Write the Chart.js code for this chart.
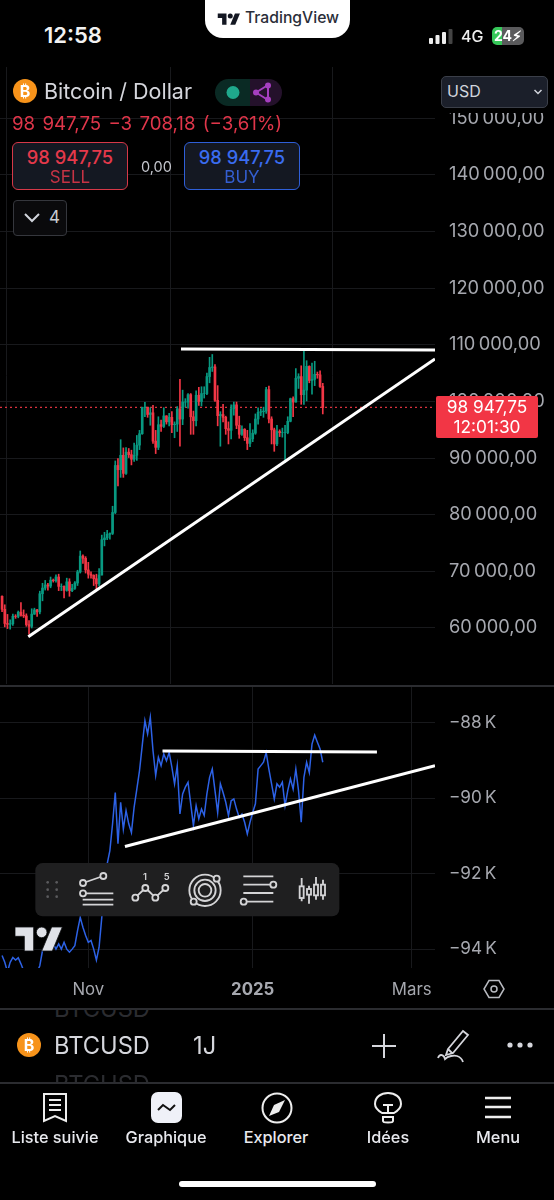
<!DOCTYPE html>
<html><head><meta charset="utf-8">
<script src="https://cdn.jsdelivr.net/npm/chart.js@4/dist/chart.umd.min.js"></script>
<style>
html,body{margin:0;padding:0;background:#000;width:554px;height:1200px;overflow:hidden}
body{position:relative;font-family:Inter,"Noto Sans",sans-serif;color:#d1d4dc}
canvas{position:absolute;left:0}
.a{position:absolute;white-space:nowrap}
.c{transform:translateX(-50%);text-align:center}
.btn{position:absolute;box-sizing:border-box;border-radius:6px;background:#141822;border:1.5px solid;width:116px;height:48px;top:142px;text-align:center}
.btn .p{font-size:18.3px;font-weight:500;line-height:20px;margin-top:4px}
.btn .l{font-size:17px;line-height:19px;opacity:.85;margin-top:1px}
.nav{font-size:16.3px;font-weight:500;color:#e8e9ee;top:1127px}
</style></head><body>
<canvas id="main" width="554" height="617" style="top:67px"></canvas>
<canvas id="sub" width="554" height="320" style="top:686px"></canvas>

<div class="a" style="left:440px;top:67px;width:114px;height:46px;background:#000"></div>
<div class="a" style="left:0;top:685px;width:554px;height:1.5px;background:#2b2c30"></div>

<!-- status bar -->
<div class="a" style="left:205px;top:0;width:145px;height:38px;background:#fff;border-radius:0 0 18px 18px"></div>
<svg class="a" style="left:217px;top:11px" width="24" height="15" viewBox="0 0 36 24"><g fill="#131722"><path d="M14 22H7V11H0V4h14v18z"/><circle cx="20" cy="8" r="4"/><path d="M28 22h-8l7.5-18h8L28 22z"/></g></svg>
<div class="a" style="left:245px;top:8px;font-size:15.7px;font-weight:500;color:#2a2e39;line-height:20px">TradingView</div>
<div class="a" style="left:44px;top:22px;font-size:22px;font-weight:600;color:#f2f2f2;line-height:26px">12:58</div>
<svg class="a" style="left:429px;top:28px" width="26" height="18"><g fill="#eee"><rect x="0" y="10" width="4" height="6" rx="1"/><rect x="6.5" y="7" width="4" height="9" rx="1"/><rect x="13" y="4" width="4" height="12" rx="1"/></g><rect x="19.5" y="1" width="4" height="15" rx="1" fill="#444"/></svg>
<div class="a" style="left:461px;top:26px;font-size:16px;font-weight:500;color:#eee;line-height:20px">4G</div>
<div class="a" style="left:492px;top:27px;width:32px;height:18px;border-radius:5px;background:linear-gradient(90deg,#36c759 0 30%,#5a5a5c 30%);color:#fff;font-size:14px;font-weight:700;line-height:18px;text-align:center">24⚡︎</div>

<!-- header -->
<svg class="a" style="left:13px;top:79px" width="24" height="24"><circle cx="12" cy="12" r="12" fill="#f7931a"/><text x="12" y="18" text-anchor="middle" font-size="16" font-weight="700" fill="#fff" font-family="Inter">₿</text></svg>
<div class="a" style="left:44px;top:78px;font-size:21.5px;color:#d5d6dc;line-height:27px">Bitcoin / Dollar</div>
<div class="a" style="left:215px;top:79px;width:67px;height:27px;border-radius:14px;background:linear-gradient(90deg,#0a2a24 0 52%,#24112b 52%)"></div>
<svg class="a" style="left:225px;top:79px" width="50" height="27"><circle cx="8" cy="13.5" r="6.5" fill="#1fa98c"/><g stroke="#a63fc0" stroke-width="2" fill="#a63fc0"><path d="M31 13.5L43 6M31 13.5L43 21M43 6V21" fill="none"/><circle cx="31" cy="13.5" r="2"/><circle cx="43" cy="6.5" r="2"/><circle cx="43" cy="20.5" r="2"/></g></svg>
<div class="a" style="left:441px;top:76px;width:107px;height:32px;box-sizing:border-box;background:#1b1f2a;border:1.5px solid #3b3f49;border-radius:5px;font-size:16px;line-height:29px;padding-left:5px;color:#d1d4dc">USD<svg style="position:absolute;right:4px;top:11px" width="10" height="8"><path d="M1.5 2L5 5.5L8.5 2" stroke="#d1d4dc" stroke-width="1.5" fill="none"/></svg></div>
<div class="a" style="left:12px;top:113px;font-size:18.7px;color:#e0364a;line-height:21px;word-spacing:2px">98 947,75 −3 708,18 (−3,61%)</div>
<div class="btn" style="left:12px;border-color:#d63848;color:#e5394b"><div class="p">98 947,75</div><div class="l">SELL</div></div>
<div class="a" style="left:141px;top:158px;font-size:14.5px;color:#c3c5cc;line-height:18px">0,00</div>
<div class="btn" style="left:184px;border-color:#2f5fd8;color:#3a6cf0"><div class="p">98 947,75</div><div class="l">BUY</div></div>
<div class="a" style="left:13px;top:200px;width:54px;height:36px;box-sizing:border-box;border:1.5px solid #35373d;border-radius:4px;background:#0a0a0c"><svg style="position:absolute;left:9px;top:11px" width="18" height="12"><path d="M2 2L9 9L16 2" stroke="#d1d4dc" stroke-width="2" fill="none"/></svg><span style="position:absolute;left:35px;top:6px;font-size:17px;line-height:21px;color:#c9cbd1">4</span></div>

<!-- price box -->
<div class="a" style="left:436px;top:396px;width:102px;height:42px;background:#f23645;border-radius:2px;color:#fff;text-align:center;font-size:17.3px;line-height:20px;padding-top:1px;box-sizing:border-box">98 947,75<br>12:01:30</div>

<!-- watermark + toolbar -->
<svg class="a" style="left:15px;top:925px" width="48" height="28" viewBox="0 0 36 21"><g transform="translate(0,-2.5)" fill="#e0e2e8" stroke="#101114" stroke-width=".6"><path d="M14 22H7V11H0V4h14v18z"/><circle cx="20" cy="8" r="4"/><path d="M28 22h-8l7.5-18h8L28 22z"/></g></svg>
<svg class="a" style="left:35px;top:863px" width="305" height="54" viewBox="105 490 915 162">
<rect x="106" y="490" width="912" height="160" rx="22" fill="#1f1f20"/>
<g fill="#5b5b5d"><circle cx="143" cy="548" r="4"/><circle cx="170" cy="548" r="4"/><circle cx="143" cy="570" r="4"/><circle cx="170" cy="570" r="4"/><circle cx="143" cy="591" r="4"/><circle cx="170" cy="591" r="4"/></g>
<g stroke="#d4d4d6" stroke-width="5.5" fill="none">
<path d="M258 547L301 532M258 581H340M248 600H340M248 615H340"/><circle cx="310" cy="529" r="9"/><circle cx="249" cy="550" r="9"/><circle cx="249" cy="581" r="9"/>
<path d="M412 588L430 571M443 571L460 588M472 588L490 571"/><circle cx="406" cy="594" r="9"/><circle cx="436" cy="565" r="9"/><circle cx="466" cy="594" r="9"/><circle cx="496" cy="565" r="9"/>
<circle cx="615" cy="572" r="47"/><circle cx="615" cy="572" r="32"/><circle cx="615" cy="572" r="19"/><circle cx="650" cy="537" r="9" fill="#1f1f20"/><circle cx="581" cy="606" r="9" fill="#1f1f20"/>
<path d="M730 530H820M730 555H811M730 580H820M740 606H820"/><circle cx="820" cy="555" r="9"/><circle cx="731" cy="606" r="9"/>
<path d="M905 535V560M905 595V605M927 558V568M927 585V612M948 532V555M948 587V600M969 540V555M969 587V600"/><rect x="899" y="560" width="12" height="35"/><rect x="921" y="568" width="12" height="17"/><rect x="942" y="555" width="12" height="32"/><rect x="963" y="555" width="12" height="32"/>
</g>
<g fill="#d4d4d6" font-family="Inter" font-size="28" font-weight="600" text-anchor="middle"><text x="435" y="540">1</text><text x="500" y="540">5</text></g>
</svg>

<svg class="a" style="left:483px;top:978px" width="22" height="22"><path d="M6 2.5H16L21 11L16 19.5H6L1 11Z" stroke="#b8bac0" stroke-width="1.5" fill="none"/><circle cx="11" cy="11" r="3" stroke="#b8bac0" stroke-width="1.5" fill="none"/></svg>

<!-- bottom bar -->
<div class="a" style="left:0;top:1008px;width:554px;height:1.5px;background:#2b2c30"></div>
<div class="a" style="left:54px;top:1009.5px;height:9px;overflow:hidden;font-size:23.7px;color:#2b2c30;width:110px"><div style="line-height:20px;margin-top:-11px">BTCUSD</div></div>
<svg class="a" style="left:17px;top:1033px" width="24" height="24"><circle cx="12" cy="12" r="12" fill="#f7931a"/><text x="12" y="18" text-anchor="middle" font-size="16" font-weight="700" fill="#fff" font-family="Inter">₿</text></svg>
<div class="a" style="left:54px;top:1032px;font-size:23.7px;line-height:28px;color:#d5d6dc">BTCUSD</div>
<div class="a" style="left:193px;top:1032px;font-size:23.7px;line-height:28px;color:#d5d6dc">1J</div>
<svg class="a" style="left:370px;top:1032px" width="28" height="28"><path d="M14 2V26M2 14H26" stroke="#d5d6dc" stroke-width="2" fill="none"/></svg>
<svg class="a" style="left:436px;top:1028px" width="34" height="36"><path d="M12 21L27 3L32 7L17 25L10 27ZM16 25L12 21M2 30C4 25 8 27 9 31C12 28 18 27 21 28C24 29 26 31 27 34" stroke="#d5d6dc" stroke-width="1.8" fill="none"/></svg>
<svg class="a" style="left:506px;top:1039px" width="28" height="12"><circle cx="4" cy="6" r="2.6" fill="#d5d6dc"/><circle cx="14" cy="6" r="2.6" fill="#d5d6dc"/><circle cx="24" cy="6" r="2.6" fill="#d5d6dc"/></svg>
<div class="a" style="left:54px;top:1071px;height:11px;overflow:hidden;font-size:23.7px;line-height:28px;color:#2b2c30;width:110px">BTCUSD</div>
<div class="a" style="left:0;top:1082px;width:554px;height:1.5px;background:#2b2c30"></div>

<svg class="a" style="left:42px;top:1092px" width="26" height="32"><path d="M2 2H24V29L13 24L2 29Z" stroke="#eee" stroke-width="2" fill="none"/><path d="M7 8H19M7 13H19M7 18H19" stroke="#eee" stroke-width="2"/></svg>
<svg class="a" style="left:151px;top:1092px" width="31" height="31"><rect width="31" height="31" rx="7" fill="#eff1f8"/><path d="M7 18L12 13L19 18L24 13" stroke="#111" stroke-width="2" fill="none"/></svg>
<svg class="a" style="left:261px;top:1092px" width="32" height="32"><circle cx="16" cy="16" r="14.5" stroke="#eee" stroke-width="2" fill="none"/><path d="M24 8L18 20L8 24L13 13Z" fill="#eee"/></svg>
<svg class="a" style="left:373px;top:1091px" width="30" height="36"><path d="M9 22C4 19 2 15 2 13C2 6 8 2 15 2C22 2 28 6 28 13C28 15 26 19 21 22Z" stroke="#eee" stroke-width="2" fill="none"/><path d="M10 14H20M15 14V22M10 26H20V30C20 32 10 32 10 30Z" stroke="#eee" stroke-width="2" fill="none"/></svg>
<svg class="a" style="left:484px;top:1096px" width="28" height="24"><path d="M1 2H27M1 11H27M1 21H27" stroke="#eee" stroke-width="2.4"/></svg>
<div class="a nav c" style="left:55px">Liste suivie</div>
<div class="a nav c" style="left:166px">Graphique</div>
<div class="a nav c" style="left:276px">Explorer</div>
<div class="a nav c" style="left:388px">Idées</div>
<div class="a nav c" style="left:498px">Menu</div>
<div class="a" style="left:179px;top:1181px;width:197px;height:6px;border-radius:3px;background:#fff"></div>

<script>
// Candle day numbers count from 2025-01-01 = 0; first candle is 2024-09-30
const firstDay = -93;
const opens = [65600,63300,60800,60650,60750,62080,62050,62800,62250,62130,60600,60300,62450,63200,62850,66050,67050,67600,67400,68450,68350,69000,67350,67350,66650,68150,66600,67000,67950,69900,72700,72300,
70250,69500,69300,68700,67800,69350,75600,75900,76550,76700,80400,88700,87950,90500,87300,91050,90600,89800,90500,92300,94300,98950,99000,97700,98000,93000,91900,95900,95600,97450,
96400,97200,95900,96000,98700,96900,99900,99900,101200,97300,96600,101100,100000,101400,101400,104400,106000,106100,100200,97500,97700,97200,95200,94900,98700,99400,95800,94200,95100,93600,92600,
93400,94400,96900,98100,98200,98300,102100,96900,95000,92500,94700,94500,94500,94500,96500,100500,99900,104100,104400,101200,102000,106200,103700,103900,104800,104700,102650];
const highs = [65700,64100,62400,61450,62450,62350,63000,64500,63200,62500,61300,63400,63500,63300,66500,67900,68400,67900,69000,68650,69400,69500,67800,67450,68800,68700,67700,68200,70200,73600,72900,72600,
71600,69900,69400,69500,70500,76400,76900,77250,76800,81500,89500,89900,93250,91800,91850,91700,91400,92650,94000,94900,99000,99850,99000,98900,99300,94900,97300,96700,98900,97500,
97900,98200,96400,99100,103900,102000,100500,101400,101400,98300,101900,102500,102600,102600,105000,107800,108300,106500,102800,98200,99500,97400,96400,99400,99900,99900,97400,95700,95200,94900,96100,
95000,97800,98900,98700,99000,102500,102700,97300,95300,95800,95000,95300,95800,97300,100600,100800,105800,104900,106300,109300,107200,106300,106800,107100,105200,105400,103200];
const lows = [62900,60200,59900,59800,60450,61700,61800,62100,61850,60300,58900,60000,62400,62050,62500,64800,66700,66700,67100,68100,68100,66600,66600,65300,66500,65600,66400,66800,67500,69700,71400,69700,
68800,68800,67500,66800,67450,69350,74500,75600,75700,76500,80200,85100,86600,86600,87100,90100,88800,89400,89600,91500,94200,97300,97200,95800,92600,90800,91500,94700,95400,96000,
95700,94500,93600,94700,92100,95900,99000,98800,94200,94200,95700,99300,99200,100600,101200,103300,105300,100000,95700,92100,96400,94200,92500,93400,97600,95200,93500,94000,93100,91500,92000,
92900,94200,96000,97500,97200,97900,96200,92500,91200,92200,93800,93700,89200,94300,96400,97300,99900,102300,99500,99500,100100,103300,101300,102800,104100,102500,97800];
const closes = [63300,60800,60650,60750,62080,62050,62800,62250,62130,60600,60300,62450,63200,62850,66050,67050,67600,67400,68450,68350,69000,67350,67350,66650,68150,66600,67000,67950,69900,72700,72300,70250,
69500,69300,68700,67800,69350,75600,75900,76550,76700,80400,88700,87950,90500,87300,91050,90600,89800,90500,92300,94300,98950,99000,97700,98000,93000,91900,95900,95600,97450,96400,
97200,95900,96000,98700,96900,99900,99900,101200,97300,96600,101100,100000,101400,101400,104400,106000,106100,100200,97500,97700,97200,95200,94900,98700,99400,95800,94200,95100,93600,92600,93400,
94400,96900,98100,98200,98300,102100,96900,95000,92500,94700,94500,94500,94500,96500,100500,99900,104100,104400,101200,102000,106200,103700,103900,104800,104700,102650,98947.75];
// lower-pane blue line, thousands
const lowerLine = [-94.17,-94.35,-94.6,-94.35,-94.22,-94.29,-94.23,-94.39,-94.57,-94.75,-94.92,-94.92,-94.75,-94.61,-94.44,-94.04,-93.95,-93.86,-93.82,-93.86,-94,-93.86,-94,-93.82,-94,-94.08,-94,-93.91,-93.51,-93.16,-93.42,-93.64,-93.82,-93.77,-94,-94.29,-93.95,-93.16,-92.19,-91.74,-91.39,-90.68,-89.85,-91.21,-90.11,-90.82,-90.33,-90.68,-90.91,-90.24,-89.76,-89.27,-88.61,-87.95,-88.3,-87.86,-88.74,-89.4,-88.92,-89.14,-88.83,-89.01,-88.79,-89.18,-89.62,-89.14,-90.42,-89.89,-89.71,-89.58,-90.15,-90.73,-90.2,-90.55,-90.29,-90.46,-89.89,-89.45,-89.23,-89.8,-90.38,-89.62,-89.85,-90.11,-90.46,-90.07,-90.02,-90.29,-90.51,-90.42,-90.64,-90.95,-90.64,-90.38,-90.15,-89.23,-89.14,-89.05,-88.79,-89.23,-89.62,-90.02,-89.62,-89.71,-89.58,-90.2,-89.8,-89.49,-89.76,-89.23,-89.8,-90.64,-89.45,-89.05,-89.32,-88.57,-88.33,-88.52,-88.7,-89.05];
// drawn trend lines
const supportDays = [-83.27,67.64], supportPrices = [58464,107500];
const resistDays = [-26.6,67.64], resistPrices = [109267,109090];
const lowerSupportDays = [-47.4,67.64], lowerSupportVals = [-91.28,-89.14];
const lowerResistDays = [-33.47,46.1], lowerResistVals = [-88.75,-88.78];
const lastPrice = 98947.75;
// ticks
const priceTicks = [60000,70000,80000,90000,100000,110000,120000,130000,140000,150000];
const lowerTicks = [-88,-90,-92,-94];
const timeTicks = [-61,0,59];
const timeLabels = ['Nov','2025','Mars'];

const GREEN='#089981', RED='#f23645', GRID='#18191c', LABEL='#a6a8af';
const days = closes.map((_,i)=>firstDay+i);
const colors = closes.map((c,i)=>c>=opens[i]?GREEN:RED);
const xRange = {min:-93.77,max:67.64};
const fmt = v => { const s=String(Math.abs(v)); return s.slice(0,-3)+'\u2009'+s.slice(-3)+',00'; };
const pts = (xs,ys)=>xs.map((x,i)=>({x,y:ys[i]}));
const noPad = s => { s.paddingLeft=0; s.paddingRight=0; s.paddingTop=0; s.paddingBottom=0; };
const fixedWidth = w => (s)=>{s.width=w;noPad(s);};
const fixedHeight = h => (s)=>{s.height=h;noPad(s);};
const setTicks = list => (s)=>{s.ticks=list.map(value=>({value}));};

Chart.defaults.font.family='Inter';
Chart.defaults.animation=false;

new Chart(document.getElementById('main'),{
  type:'bar',
  data:{datasets:[
    {type:'line',data:pts(resistDays,resistPrices),borderColor:'#fff',borderWidth:3,pointRadius:0,order:0},
    {type:'line',data:pts(supportDays,supportPrices),borderColor:'#fff',borderWidth:3,pointRadius:0,order:0},
    {type:'line',data:pts([xRange.min,xRange.max],[lastPrice,lastPrice]),borderColor:'#d8323f',borderWidth:1.2,borderDash:[2,3],pointRadius:0,order:3},
    {label:'body',data:days.map((x,i)=>({x,y:[opens[i],closes[i]]})),backgroundColor:colors,barThickness:2,grouped:false,order:1},
    {label:'wick',data:days.map((x,i)=>({x,y:[lows[i],highs[i]]})),backgroundColor:colors,barThickness:1,grouped:false,order:2}
  ]},
  options:{responsive:false,layout:{padding:0},
    plugins:{legend:{display:false},tooltip:{enabled:false}},
    scales:{
      x:{type:'linear',offset:false,min:xRange.min,max:xRange.max,afterBuildTicks:setTicks(timeTicks),afterFit:fixedHeight(0),
         grid:{color:GRID,drawTicks:false},border:{display:false},ticks:{display:false}},
      y:{type:'linear',position:'right',min:50111,max:159064,afterBuildTicks:setTicks(priceTicks),afterFit:fixedWidth(119),
         grid:{color:GRID,drawTicks:false},border:{display:false},
         ticks:{padding:14,color:LABEL,font:{size:18.3},autoSkip:false,callback:fmt}}
    }}
});

new Chart(document.getElementById('sub'),{
  type:'line',
  data:{datasets:[
    {data:pts(lowerResistDays,lowerResistVals),borderColor:'#fff',borderWidth:3,pointRadius:0,order:0},
    {data:pts(lowerSupportDays,lowerSupportVals),borderColor:'#fff',borderWidth:3,pointRadius:0,order:0},
    {data:pts(days,lowerLine),borderColor:'#2d62e6',borderWidth:1.5,pointRadius:0,tension:0,order:1}
  ]},
  options:{responsive:false,layout:{padding:0},
    plugins:{legend:{display:false},tooltip:{enabled:false}},
    scales:{
      x:{type:'linear',min:xRange.min,max:xRange.max,afterBuildTicks:setTicks(timeTicks),afterFit:fixedHeight(38),
         grid:{color:GRID,drawTicks:false},border:{display:false},
         ticks:{padding:12,color:LABEL,maxRotation:0,autoSkip:false,
           font:c=>({size:16.8,weight:c.tick&&c.tick.value===0?'700':'400'}),
           callback:v=>timeLabels[timeTicks.indexOf(v)]}},
      y:{type:'linear',position:'right',min:-94.50,max:-87.03,afterBuildTicks:setTicks(lowerTicks),afterFit:fixedWidth(119),
         grid:{color:GRID,drawTicks:false},border:{display:false},
         ticks:{padding:14,color:LABEL,font:{size:17.2},autoSkip:false,callback:v=>'\u2212'+Math.abs(v)+'\u2009K'}}
    }}
});
</script>
</body></html>
